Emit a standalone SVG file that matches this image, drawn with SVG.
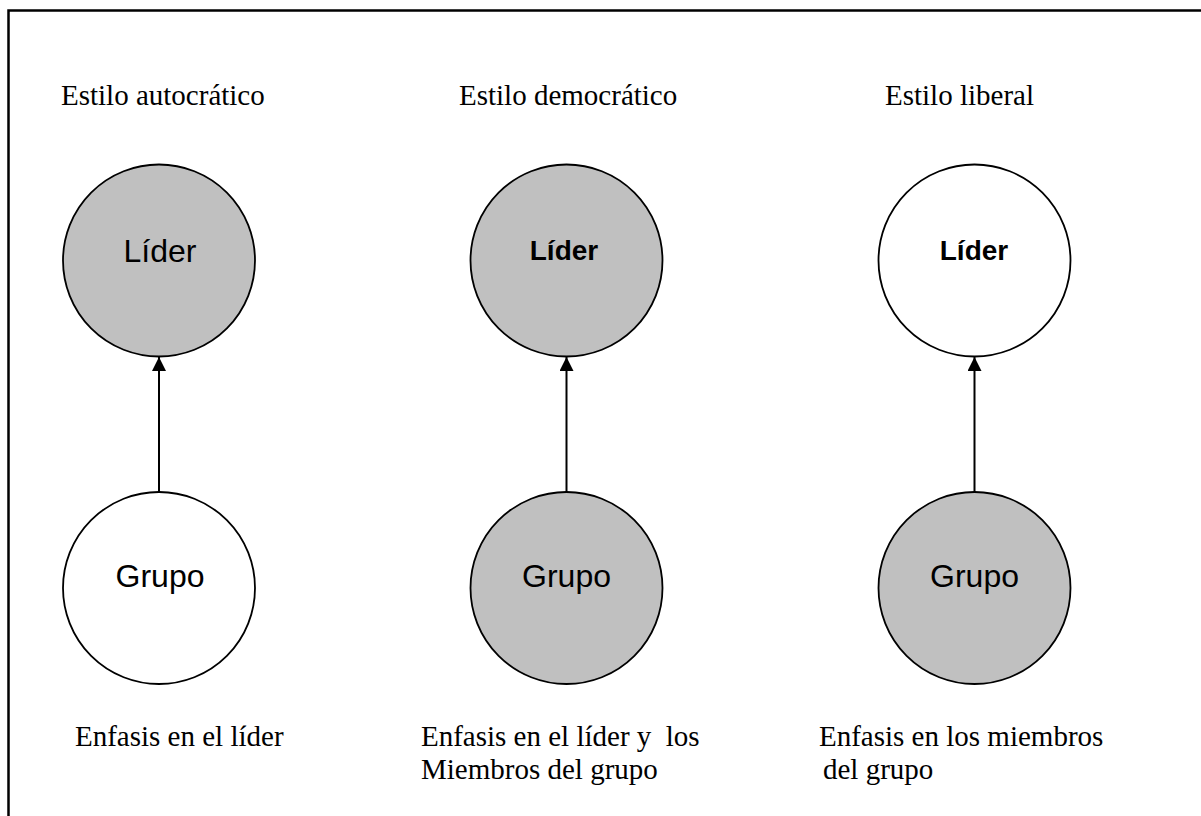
<svg xmlns="http://www.w3.org/2000/svg" width="1201" height="816" viewBox="0 0 1201 816">
<style>
.title{font-family:"Liberation Serif","Times New Roman",serif;font-size:29px;fill:#000}
.node{stroke:#000;stroke-width:1.8}
.gray{fill:#c0c0c0}
.white{fill:#fff}
.lbl{font-family:"Liberation Sans",Arial,sans-serif;font-size:32px;fill:#000;text-anchor:middle}
.bold{font-weight:bold;font-size:28px}
.conn{stroke:#000;stroke-width:2;fill:none}
</style>
<defs>
<marker id="arr" markerUnits="userSpaceOnUse" markerWidth="14" markerHeight="16" refX="14" refY="7" orient="auto">
<path d="M0,0 L14,7 L0,14 Z" fill="#000"/>
</marker>
</defs>
<rect width="1201" height="816" fill="#fff"/>
<path d="M8.5,816 V10.5 H1201" fill="none" stroke="#000" stroke-width="2.5"/>
<g id="titles">
<text class="title" x="61" y="105">Estilo autocrático</text>
<text class="title" x="459" y="105">Estilo democrático</text>
<text class="title" x="885" y="105">Estilo liberal</text>
</g>
<g id="connectors">
<line class="conn" x1="159" y1="492" x2="159" y2="357" marker-end="url(#arr)"/>
<line class="conn" x1="566.5" y1="492" x2="566.5" y2="357" marker-end="url(#arr)"/>
<line class="conn" x1="974.5" y1="492" x2="974.5" y2="357" marker-end="url(#arr)"/>
</g>
<g id="lider1"><circle class="node gray" cx="159" cy="260.5" r="96"/><text class="lbl" x="160" y="262">Líder</text></g>
<g id="grupo1"><circle class="node white" cx="159" cy="588" r="96"/><text class="lbl" x="160" y="587">Grupo</text></g>
<g id="lider2"><circle class="node gray" cx="566.5" cy="260.5" r="96"/><text class="lbl bold" x="564" y="260">Líder</text></g>
<g id="grupo2"><circle class="node gray" cx="566.5" cy="588" r="96"/><text class="lbl" x="566.5" y="587">Grupo</text></g>
<g id="lider3"><circle class="node white" cx="974.5" cy="260.5" r="96"/><text class="lbl bold" x="974" y="260">Líder</text></g>
<g id="grupo3"><circle class="node gray" cx="974.5" cy="588" r="96"/><text class="lbl" x="974.5" y="587">Grupo</text></g>
<g id="captions">
<text class="title" x="75" y="746">Enfasis en el líder</text>
<text class="title" x="421" y="746" xml:space="preserve">Enfasis en el líder y  los</text>
<text class="title" x="421" y="779">Miembros del grupo</text>
<text class="title" x="819" y="746">Enfasis en los miembros</text>
<text class="title" x="823" y="779">del grupo</text>
</g>
</svg>
